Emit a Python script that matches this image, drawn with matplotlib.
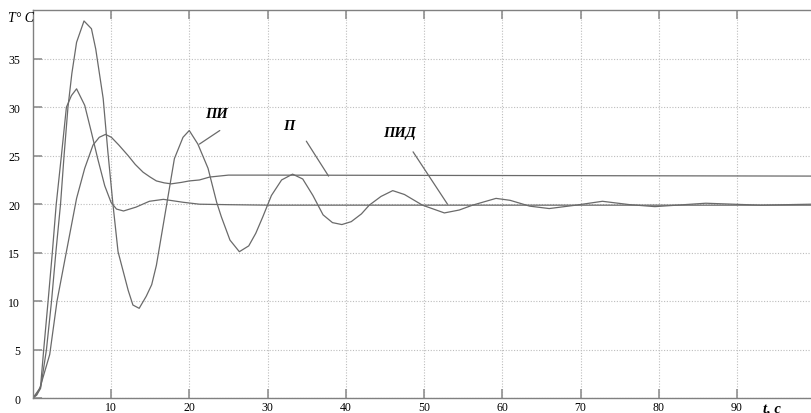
import matplotlib
matplotlib.use("Agg")
import matplotlib.pyplot as plt

# ---- data ----
t_pi = [0, 0.5, 1.0, 1.75, 2.4, 2.95, 3.55, 4.0, 4.5, 5.0, 5.6, 6.55, 7.5, 8.05, 9.0, 9.6,
        10.26, 10.9, 12.2, 12.8, 13.6, 14.5, 15.2, 15.8, 17.1, 18.1, 19.2, 20.0, 21.1, 22.4,
        23.5, 24.1, 25.2, 26.4, 27.6, 28.5, 29.4, 30.5, 31.8, 33.2, 34.5, 35.8, 37.1, 38.3,
        39.5, 40.7, 42.0, 43.0, 44.5, 46.0, 47.5, 49.8, 52.6, 54.5, 56.2, 59.2, 61.0, 63.5,
        66.0, 69.4, 72.8, 76.2, 79.5, 86.0, 93.0, 99.5]
T_pi = [0, 0.3, 1.0, 5, 10, 15, 20, 25, 30, 33.5, 36.7, 38.9, 38.1, 36.0, 30.9, 25.4,
        19.9, 15.1, 11.1, 9.6, 9.26, 10.5, 11.7, 13.7, 19.9, 24.7, 26.9, 27.6, 26.2, 23.7,
        20.2, 18.7, 16.3, 15.1, 15.7, 17.0, 18.7, 20.9, 22.5, 23.1, 22.6, 20.9, 18.9, 18.1,
        17.9, 18.2, 19.0, 19.9, 20.8, 21.4, 21.0, 19.9, 19.1, 19.4, 19.9, 20.6, 20.4, 19.8,
        19.55, 19.9, 20.3, 19.96, 19.75, 20.1, 19.9, 20.0]

t_pid = [0, 0.5, 1.0, 1.4, 1.96, 2.5, 3.0, 3.66, 4.3, 4.94, 5.6, 6.64, 7.5, 8.3, 9.2, 10.0,
         10.7, 11.6, 13.2, 14.9, 16.7, 19.2, 21.3, 25, 30, 99.5]
T_pid = [0, 0.4, 1.2, 5, 10, 15, 20, 25, 30, 31.2, 31.9, 30.2, 27.4, 24.7, 21.9, 20.2,
         19.5, 19.3, 19.7, 20.3, 20.5, 20.2, 20.0, 19.95, 19.9, 19.9]

t_p = [0, 0.9, 2.17, 3.1, 4.3, 5.6, 6.64, 7.7, 8.5, 9.3, 10.05, 11.0, 12.2, 13.1, 14.1, 15.0,
       15.8, 16.8, 17.7, 19.0, 20.0, 21.3, 22.6, 25.0, 30, 99.5]
T_p = [0, 1.0, 4.5, 10.0, 15.1, 20.6, 23.7, 26.1, 26.9, 27.2, 26.9, 26.1, 25.0, 24.1, 23.3, 22.8,
       22.4, 22.2, 22.1, 22.25, 22.4, 22.5, 22.8, 23.0, 23.0, 22.9]

x_ticks = [10, 20, 30, 40, 50, 60, 70, 80, 90]
y_ticks = [0, 5, 10, 15, 20, 25, 30, 35]

labels = ["ПИ", "П", "ПИД"]

# ---- figure ----
W, H = 811, 414
fig = plt.figure(figsize=(W / 100, H / 100), dpi=100)
left_px, top_px, bottom_px = 32.75, 11.3, 399.1
ax = fig.add_axes([left_px / W, (H - bottom_px) / H, 1 - left_px / W, (bottom_px - top_px) / H])

line_col = "#6a6a6a"
for tt, vv in [(t_pi, T_pi), (t_pid, T_pid), (t_p, T_p)]:
    ax.plot(tt, vv, color=line_col, lw=0.9)

ax.set_xlim(0, 99.45)
ax.set_ylim(0, 40)
ax.set_xticks(x_ticks)
ax.set_yticks(y_ticks)
ax.grid(True, linestyle=(0, (1, 1.5)), color="#bdbdbd", lw=0.8)

for s in ["left", "bottom", "top"]:
    ax.spines[s].set_color("#808080")
    ax.spines[s].set_linewidth(1.0)
ax.spines["right"].set_visible(False)

ax.tick_params(axis="both", direction="in", length=6.5, width=1.2, color="#909090",
               labelsize=8.5, top=True, right=False)
ax.tick_params(axis="y", pad=9)
ax.tick_params(axis="x", pad=2)
for lab in ax.get_xticklabels() + ax.get_yticklabels():
    lab.set_fontfamily("Liberation Serif")

# annotations: label text positions and pointer segments
lab_font = dict(family="Liberation Serif", weight="bold", style="italic", fontsize=10.5)
ann = [
    (labels[0], (23.5, 29.4), (23.9, 27.6), (21.3, 26.2)),
    (labels[1], (32.7, 28.1), (34.96, 26.5), (37.8, 22.9)),
    (labels[2], (46.9, 27.4), (48.6, 25.4), (53.0, 20.0)),
]
for txt, tpos, p0, p1 in ann:
    ax.text(tpos[0], tpos[1], txt, ha="center", va="center", **lab_font)
    ax.annotate("", xy=p1, xytext=p0,
                arrowprops=dict(arrowstyle="-", color=line_col, lw=0.9, shrinkA=0, shrinkB=0))

fig.text(8 / W, 1 - 19 / H, "T° C", ha="left", va="center",
         family="Liberation Serif", style="italic", fontsize=10)
fig.text(772 / W, 1 - 409 / H, "t, c", ha="center", va="center",
         family="Liberation Serif", style="italic", weight="bold", fontsize=10.5)

fig.savefig("out.png", dpi=100)
